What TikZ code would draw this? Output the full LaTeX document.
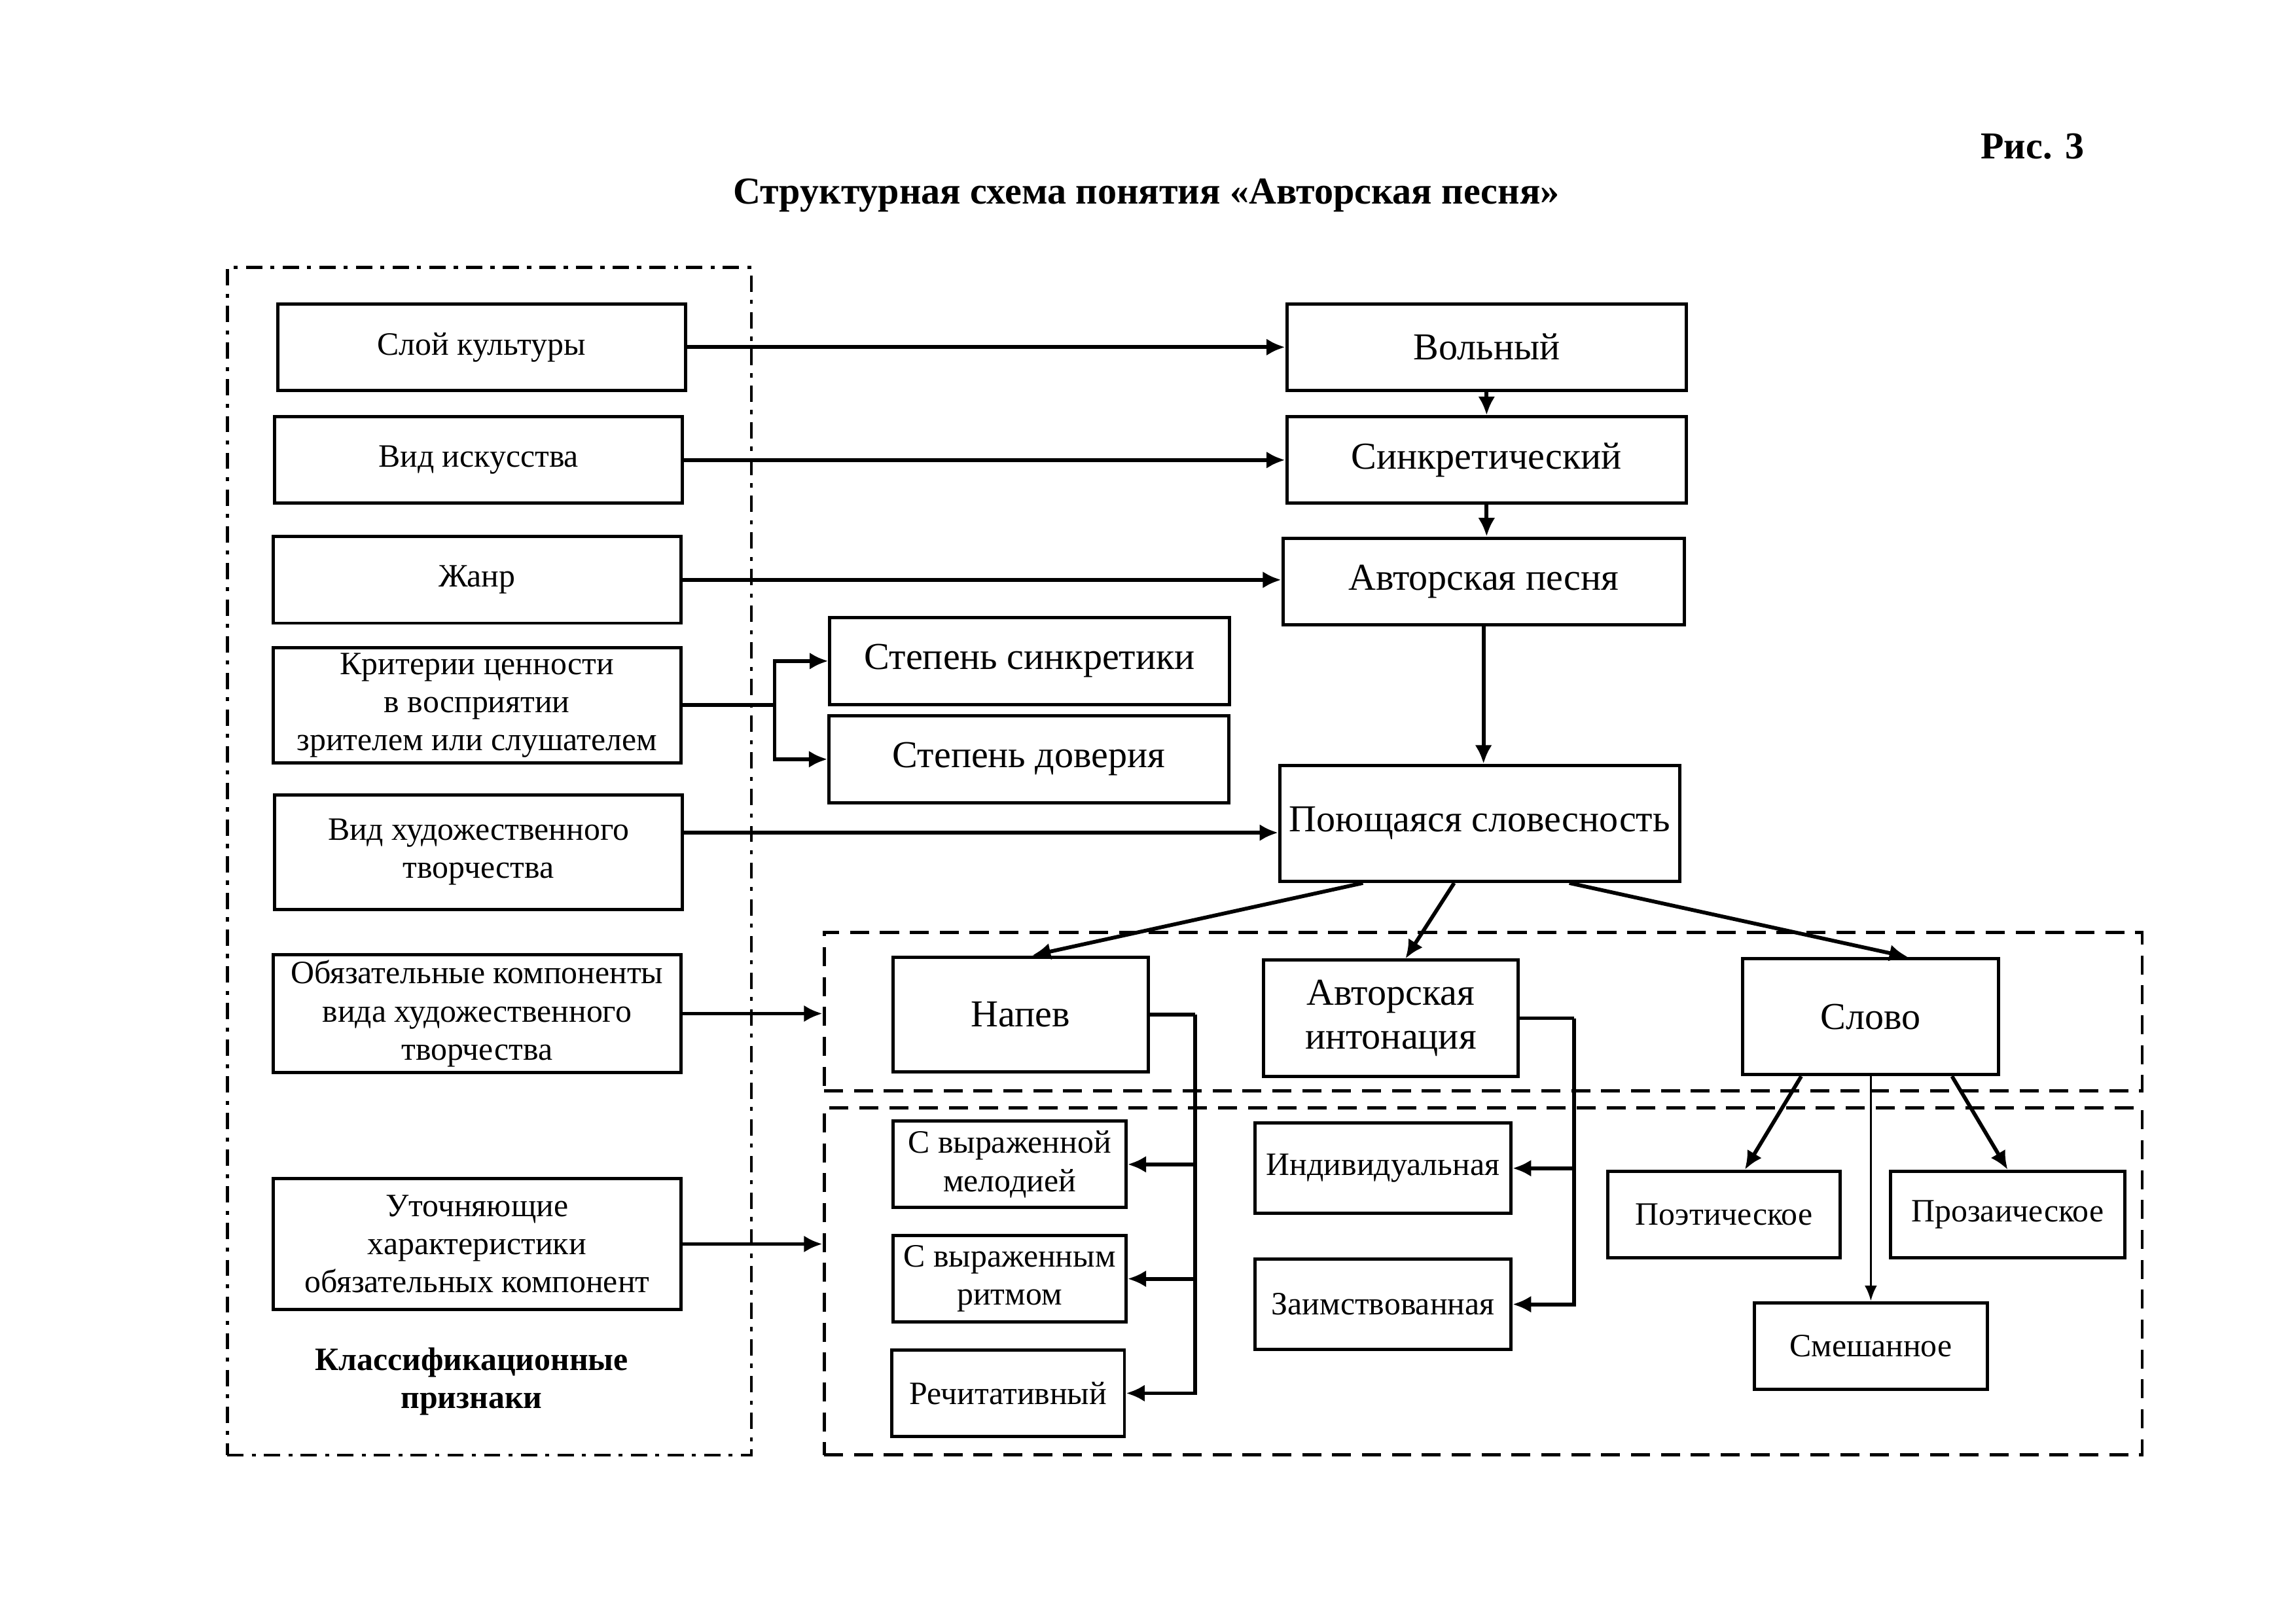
\documentclass[tikz,border=0pt]{standalone}
\usepackage{fontspec}
\setmainfont{Liberation Serif}
\usetikzlibrary{arrows.meta}

\begin{document}
\begin{tikzpicture}[
    box/.style={draw, line width=1.2pt, align=center, font=\fontsize{12}{14}\selectfont, inner sep=2pt, minimum height=1.12cm},
    big/.style={box, font=\fontsize{14}{16}\selectfont},
    grp/.style={draw, line width=1.2pt, dash pattern=on 7pt off 4pt},
    outer/.style={draw, line width=1.1pt, dash pattern=on 6pt off 3pt on 1.5pt off 3pt},
    arr/.style={-{Latex[length=2.4mm, width=2.2mm]}, line width=1.4pt},
    ln/.style={line width=1.4pt}
    ]
    \useasboundingbox (0,0) rectangle (29.7,21.0);

    \node[font=\bfseries\fontsize{14}{16}\selectfont] (fig) at (26.29,19.11) {Рис. 3};
    \node[font=\bfseries\fontsize{14}{16}\selectfont] (title) at (14.83,18.47) {Структурная схема понятия «Авторская песня»};

    % group frames
    \node[outer, minimum width=6.78cm, minimum height=15.36cm] (cls) at (6.33,9.86) {};
    \node[grp, minimum width=17.05cm, minimum height=2.05cm] (upper) at (19.185,7.915) {};
    \node[grp, minimum width=17.05cm, minimum height=4.49cm] (lower) at (19.185,4.425) {};

    % left column
    \node[box, minimum width=5.27cm] (sloy) at (6.23,16.51) {Слой культуры};
    \node[box, minimum width=5.27cm] (vid) at (6.19,15.05) {Вид искусства};
    \node[box, minimum width=5.27cm] (zhanr) at (6.17,13.50) {Жанр};
    \node[box, minimum width=5.27cm, minimum height=1.48cm] (krit) at (6.17,11.88) {Критерии ценности\\в восприятии\\зрителем или слушателем};
    \node[box, minimum width=5.27cm, minimum height=1.48cm] (vidhud) at (6.19,9.98) {Вид художественного\\творчества};
    \node[box, minimum width=5.27cm, minimum height=1.50cm] (oblig) at (6.17,7.89) {Обязательные компоненты\\вида художественного\\творчества};
    \node[box, minimum width=5.27cm, minimum height=1.70cm] (utoch) at (6.17,4.91) {Уточняющие\\характеристики\\обязательных компонент};
    \node[font=\bfseries\fontsize{12}{14}\selectfont, align=center] (clsname) at (6.10,3.13) {Классификационные\\признаки};

    % right column
    \node[big, minimum width=5.17cm] (volny) at (19.23,16.51) {Вольный};
    \node[big, minimum width=5.17cm] (sinkr) at (19.23,15.05) {Синкретический};
    \node[big, minimum width=5.19cm] (avtp) at (19.19,13.48) {Авторская песня};
    \node[big, minimum width=5.17cm] (stsin) at (13.32,12.45) {Степень синкретики};
    \node[big, minimum width=5.17cm] (stdov) at (13.31,11.18) {Степень доверия};
    \node[big, minimum width=5.17cm, minimum height=1.50cm] (poyu) at (19.14,10.35) {Поющаяся словесность};

    % components
    \node[big, minimum width=3.30cm, minimum height=1.48cm] (napev) at (13.20,7.88) {Напев};
    \node[big, minimum width=3.30cm, minimum height=1.50cm] (aint) at (17.99,7.83) {Авторская\\интонация};
    \node[big, minimum width=3.31cm, minimum height=1.50cm] (slovo) at (24.20,7.85) {Слово};

    % refinements
    \node[box, minimum width=3.01cm, inner sep=1pt] (smel) at (13.06,5.94) {С выраженной\\мелодией};
    \node[box, minimum width=3.01cm, inner sep=1pt] (sritm) at (13.06,4.46) {С выраженным\\ритмом};
    \node[box, minimum width=3.01cm] (rech) at (13.04,2.98) {Речитативный};
    \node[box, minimum width=3.31cm, minimum height=1.17cm] (indiv) at (17.89,5.89) {Индивидуальная};
    \node[box, minimum width=3.31cm, minimum height=1.17cm] (zaim) at (17.89,4.13) {Заимствованная};
    \node[box, minimum width=3.01cm] (poet) at (22.30,5.29) {Поэтическое};
    \node[box, minimum width=3.03cm] (proz) at (25.97,5.29) {Прозаическое};
    \node[box, minimum width=3.01cm] (smesh) at (24.20,3.59) {Смешанное};

    \coordinate (fork) at (10.02,11.88);
    \coordinate (nbus) at (15.46,7.88);
    \coordinate (abus) at (20.36,7.83);

    \draw[arr] (sloy) -- (volny);
    \draw[arr] (vid) -- (sinkr);
    \draw[arr] (zhanr) -- (zhanr -| avtp.west);
    \draw[arr] ([yshift=0.25cm]vidhud.east) -- ([yshift=0.25cm]vidhud.east -| poyu.west);
    \draw[arr] (oblig) -- (oblig -| upper.west);
    \draw[arr] (utoch) -- (utoch -| lower.west);
    \draw[ln] (krit) -- (fork);
    \draw[arr] (fork) |- (stsin);
    \draw[arr] (fork) |- (stdov);
    \draw[arr] (volny) -- (sinkr);
    \draw[arr] (sinkr) -- (sinkr |- avtp.north);
    \draw[arr] (avtp) -- (avtp.south |- poyu.north);
    \draw[arr] ([xshift=-1.51cm]poyu.south) -- ([xshift=0.15cm]napev.north);
    \draw[arr] ([xshift=-0.33cm]poyu.south) -- ([xshift=0.19cm]aint.north);
    \draw[arr] ([xshift=1.16cm]poyu.south) -- ([xshift=0.48cm]slovo.north);
    \draw[ln] (napev) -- (nbus);
    \draw[arr] (nbus) |- (smel);
    \draw[arr] (nbus) |- (sritm);
    \draw[arr] (nbus) |- (rech);
    \draw[ln] (aint) -- (abus);
    \draw[arr] (abus) |- (indiv);
    \draw[arr] (abus) |- (zaim);
    \draw[arr] ([xshift=-0.90cm]slovo.south) -- ([xshift=0.27cm]poet.north);
    \draw[arr] ([xshift=1.05cm]slovo.south) -- (proz.north);
    \draw[-{Latex[length=2mm, width=1.6mm]}, line width=0.9pt] (slovo) -- (smesh);
  \end{tikzpicture}
\end{document}
